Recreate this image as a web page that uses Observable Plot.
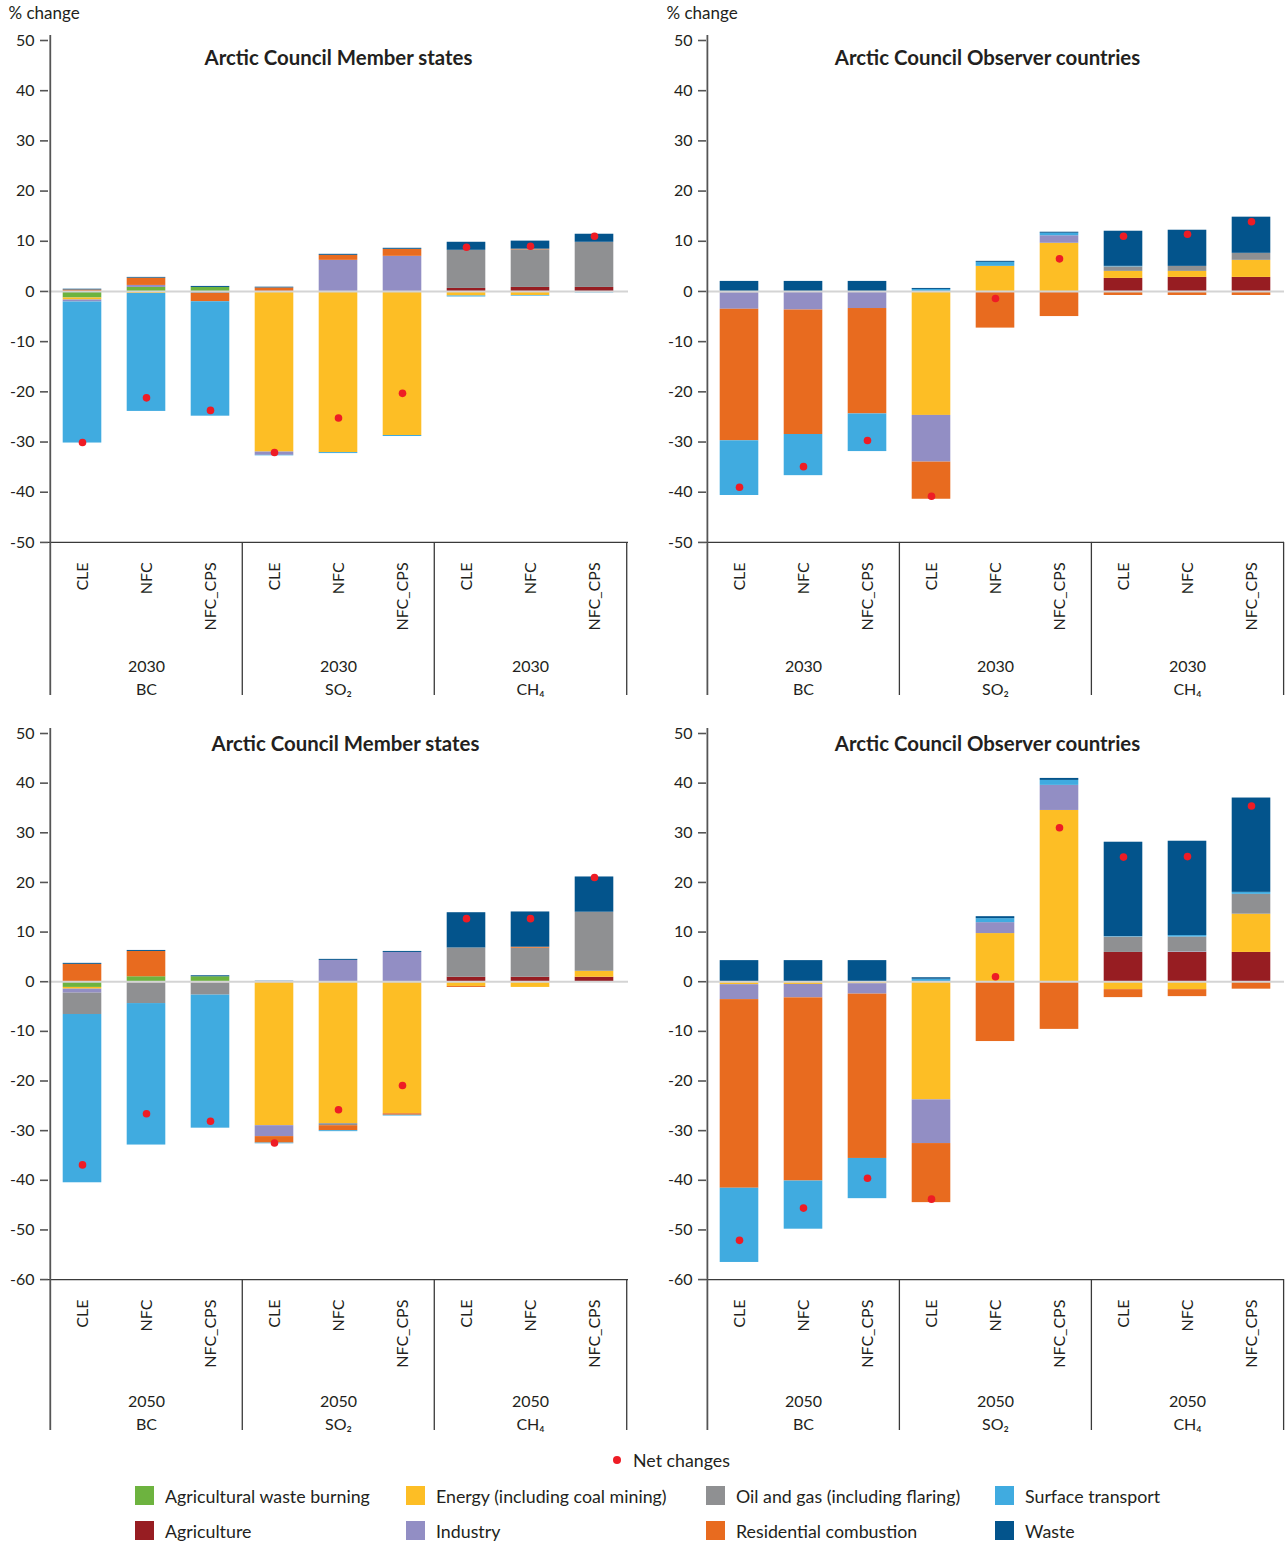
<!DOCTYPE html>
<html>
<head>
<meta charset="utf-8">
<script src="https://cdn.jsdelivr.net/npm/d3@7"></script>
<script src="https://cdn.jsdelivr.net/npm/@observablehq/plot@0.6"></script>
<style>
  html, body { margin: 0; padding: 0; background: #fff; }
  body { font-family: Lato, "Noto Sans", sans-serif; color: #231f20; }
  #page { position: relative; width: 1286px; height: 1541px; overflow: hidden; }
  .panel { position: absolute; }
  .legend { position: absolute; font-size: 17.8px; white-space: nowrap; }
  .sw { position: absolute; width: 19px; height: 19px; }
  .lt { position: absolute; line-height: 16px; }
</style>
</head>
<body>
<div id="page"></div>
<script>
// ---- Categories ----
// sectors in stacking order (closest to zero first)
const sectors = [
  "Agriculture",
  "Agricultural waste burning",
  "Energy (including coal mining)",
  "Industry",
  "Oil and gas (including flaring)",
  "Residential combustion",
  "Surface transport",
  "Waste"
];
const sectorColors = ["#971d22", "#6db33f", "#fdbe25", "#928ec4", "#8f9092", "#e86b1f", "#40abe0", "#03548c"];
const netColor = "#ee1c25";
const pollutants = ["BC", "SO₂", "CH₄"];
const scenarios = ["CLE", "NFC", "NFC_CPS"];
const ticksTop = [-50, -40, -30, -20, -10, 0, 10, 20, 30, 40, 50];
const ticksBottom = [-60, -50, -40, -30, -20, -10, 0, 10, 20, 30, 40, 50];
const legendRow1 = ["Agricultural waste burning", "Energy (including coal mining)", "Oil and gas (including flaring)", "Surface transport"];
const legendRow2 = ["Agriculture", "Industry", "Residential combustion", "Waste"];

// ---- Values (% change), one row per bar: BC CLE, NFC, NFC_CPS, SO2 ..., CH4 ...
// columns follow `sectors`
const member2030 = [
  [0, -1.3, -0.4, -0.4, 0, 0.3, -28.1, 0.15],
  [0, 0.8, -0.4, 0.4, 0, 1.45, -23.5, 0.15],
  [0, 0.8, 0, 0, -0.4, -1.65, -22.8, 0.2],
  [0, 0, -32.0, -0.65, 0, 0.7, -0.1, 0.15],
  [0, 0, -32.1, 6.2, 0, 1.0, -0.2, 0.2],
  [0, 0, -28.7, 7.0, 0, 1.4, -0.2, 0.2],
  [0.6, 0, -0.9, 0, 7.6, 0, -0.2, 1.6],
  [0.8, 0, -0.8, 0, 7.5, 0.13, -0.13, 1.6],
  [0.8, 0, 0, 0, 9.0, 0, -0.3, 1.6]
];
const member2030Net = [-30.1, -21.2, -23.7, -32.1, -25.2, -20.3, 8.8, 9.0, 11.0];

const observer2030 = [
  [0, 0, -0.25, -3.3, 0, -26.2, -10.9, 2.0],
  [0, 0, 0, -3.7, 0, -24.8, -8.2, 2.0],
  [0, 0, 0, -3.4, 0, -21.0, -7.5, 2.0],
  [0, 0, -24.7, -9.3, 0, -7.4, 0.4, 0.2],
  [0, 0, 5.0, 0, 0, -7.3, 0.8, 0.2],
  [0, 0, 9.6, 1.5, 0, -5.0, 0.5, 0.2],
  [2.6, 0, 1.4, 0, 0.9, -0.8, 0.1, 7.0],
  [2.8, 0, 1.2, 0, 1.0, -0.8, 0, 7.2],
  [2.8, 0, 3.4, 0, 1.4, -0.8, 0, 7.2]
];
const observer2030Net = [-39.0, -34.9, -29.7, -40.8, -1.4, 6.5, 11.0, 11.4, 13.9];

const member2050 = [
  [0, -1.15, -0.35, -0.8, -4.3, 3.5, -33.9, 0.2],
  [0, 1.0, -0.2, 0, -4.2, 5.1, -28.5, 0.2],
  [0, 1.0, -0.2, 0, -2.5, 0, -26.8, 0.2],
  [0, 0, -29.0, -2.2, 0, -1.3, -0.15, 0.1],
  [0, 0, -28.6, 4.3, -0.4, -1.0, -0.2, 0.2],
  [0, 0, -26.6, 5.9, 0, -0.3, -0.15, 0.2],
  [0.9, 0, -0.95, 0, 5.9, -0.2, 0, 7.1],
  [0.9, 0, -1.15, 0, 5.85, 0.2, 0, 7.1],
  [0.9, 0, 1.2, 0, 11.9, 0, -0.15, 7.1]
];
const member2050Net = [-36.9, -26.6, -28.1, -32.5, -25.8, -20.9, 12.7, 12.7, 21.0];

const observer2050 = [
  [0, 0, -0.6, -3.0, 0, -38.0, -14.95, 4.25],
  [0, 0, -0.55, -2.7, 0, -36.9, -9.7, 4.25],
  [0, 0, -0.4, -2.1, 0, -33.1, -8.1, 4.25],
  [0, 0, -23.8, -8.8, 0, -11.9, 0.5, 0.3],
  [0, 0, 9.7, 2.2, 0, -12.05, 0.8, 0.4],
  [0, 0, 34.5, 5.05, 0, -9.6, 1.0, 0.4],
  [5.9, 0, -1.6, 0, 3.1, -1.6, 0.1, 19.0],
  [5.9, 0, -1.6, 0.1, 3.0, -1.4, 0.3, 19.0],
  [5.9, 0, 7.7, 0, 4.0, -1.5, 0.4, 19.0]
];
const observer2050Net = [-52.1, -45.6, -39.6, -43.8, 1.0, 31.0, 25.1, 25.2, 35.4];

// ---- Build ----
const keys = [];
pollutants.forEach(p => scenarios.forEach(s => keys.push(p + "|" + s)));

function toRows(matrix) {
  const rows = [];
  matrix.forEach((vals, i) => vals.forEach((v, j) => {
    if (v !== 0) rows.push({key: keys[i], sector: sectors[j], value: v});
  }));
  return rows;
}

function panel(o) {
  const step = (o.width - o.marginLeft - o.marginRight) / keys.length;
  const rows = toRows(o.matrix);
  const net = o.net.map((v, i) => ({key: keys[i], value: v}));
  const axisMin = o.ticks[0], axisMax = o.ticks[o.ticks.length - 1];
  const groups = pollutants.map((p, g) => ({key: keys[g * 3 + 1], pollutant: p, year: o.year}));
  const marks = [
    Plot.barY(rows, {
      x: "key", y: "value", fill: "sector", order: sectors,
      insetLeft: 12.7, insetRight: 12.7
    }),
    Plot.ruleY([0], {stroke: "#d4d4d4", strokeWidth: 2}),
    Plot.ruleY([axisMin], {stroke: "#3a3a3a", strokeWidth: 1.3}),
    // left axis line (also first group separator)
    Plot.ruleX([keys[0]], {x: d => d, dx: -step / 2, y1: axisMax + 1, y2: o.yMin, stroke: "#555", strokeWidth: 1.8}),
    // group separators
    Plot.ruleX([keys[3], keys[6]], {x: d => d, dx: -step / 2, y1: axisMin, y2: o.yMin, stroke: "#3a3a3a", strokeWidth: 1.3}),
    Plot.ruleX([keys[8]], {x: d => d, dx: step / 2, y1: axisMin, y2: o.yMin, stroke: "#3a3a3a", strokeWidth: 1.3}),
    Plot.axisY({ticks: o.ticks, label: null, tickSize: 8, tickPadding: 6, fontSize: 16, stroke: "#555", strokeWidth: 1.6, color: "#231f20", tickFormat: d => String(d)}),
    Plot.text(keys, {
      x: d => d, y: axisMin, dy: 20, text: d => d.split("|")[1],
      rotate: -90, textAnchor: "end", fontSize: 16, fill: "#231f20"
    }),
    Plot.text(groups, {x: "key", y: axisMin, dy: o.yearDy, text: "year", fontSize: 16, fill: "#231f20"}),
    Plot.text(groups, {x: "key", y: axisMin, dy: o.yearDy + 23, text: "pollutant", fontSize: 16, fill: "#231f20"}),
    Plot.dot(net, {x: "key", y: "value", r: 3.8, fill: netColor}),
    Plot.text([o.title], {frameAnchor: "top", dx: o.titleDx, dy: o.titleDy, fontWeight: "bold", fontSize: o.titleSize, fill: "#231f20"})
  ];
  if (o.showLabel) {
    marks.push(Plot.text(["% change"], {frameAnchor: "top-left", dx: -40, dy: -34, textAnchor: "start", fontSize: 17, fill: "#231f20"}));
  }
  return Plot.plot({
    width: o.width, height: o.height,
    marginLeft: o.marginLeft, marginRight: o.marginRight, marginTop: o.marginTop, marginBottom: 0,
    style: {fontFamily: "Lato, 'Noto Sans', sans-serif", background: "transparent", overflow: "visible"},
    x: {domain: keys, padding: 0, axis: null},
    y: {domain: [o.yMin, axisMax], axis: null},
    color: {domain: sectors, range: sectorColors},
    marks
  });
}

const page = document.getElementById("page");
function place(el, left, top) {
  const d = document.createElement("div");
  d.className = "panel";
  d.style.left = left + "px"; d.style.top = top + "px";
  d.appendChild(el); page.appendChild(d);
}

place(panel({title: "Arctic Council Member states", matrix: member2030, net: member2030Net, year: "2030",
  ticks: ticksTop, yMin: -80.5, width: 643, height: 695, marginLeft: 48, marginRight: 15, marginTop: 40,
  titleDx: 0, titleDy: 10, titleSize: 20.4, yearDy: 124, showLabel: true}), 0, 0);
place(panel({title: "Arctic Council Observer countries", matrix: observer2030, net: observer2030Net, year: "2030",
  ticks: ticksTop, yMin: -80.5, width: 628, height: 695, marginLeft: 48, marginRight: 2, marginTop: 40,
  titleDx: -8, titleDy: 10, titleSize: 20.4, yearDy: 124, showLabel: true}), 658, 0);
place(panel({title: "Arctic Council Member states", matrix: member2050, net: member2050Net, year: "2050",
  ticks: ticksBottom, yMin: -90.4, width: 643, height: 730, marginLeft: 48, marginRight: 15, marginTop: 33,
  titleDx: 7, titleDy: 3, titleSize: 20.4, yearDy: 122, showLabel: false}), 0, 700);
place(panel({title: "Arctic Council Observer countries", matrix: observer2050, net: observer2050Net, year: "2050",
  ticks: ticksBottom, yMin: -90.4, width: 628, height: 730, marginLeft: 48, marginRight: 2, marginTop: 33,
  titleDx: -8, titleDy: 3, titleSize: 20.4, yearDy: 122, showLabel: false}), 658, 700);

// ---- Legend ----
const legend = document.createElement("div");
legend.className = "legend";
legend.style.left = "0px"; legend.style.top = "0px";
page.appendChild(legend);
function addLegendText(txt, x, yc) {
  const t = document.createElement("div");
  t.className = "lt"; t.textContent = txt;
  t.style.left = x + "px"; t.style.top = (yc - 8) + "px";
  legend.appendChild(t);
}
// net changes
const nd = document.createElement("div");
nd.style.cssText = `position:absolute;left:613px;top:1456px;width:8px;height:8px;border-radius:50%;background:${netColor}`;
legend.appendChild(nd);
addLegendText("Net changes", 633, 1460);
const colX = [135, 406, 706, 995];
[[legendRow1, 1496], [legendRow2, 1531]].forEach(([row, yc]) => {
  row.forEach((name, i) => {
    const sw = document.createElement("div");
    sw.className = "sw";
    sw.style.left = colX[i] + "px"; sw.style.top = (yc - 10) + "px";
    sw.style.background = sectorColors[sectors.indexOf(name)];
    legend.appendChild(sw);
    addLegendText(name, colX[i] + 30, yc);
  });
});
</script>
</body>
</html>
